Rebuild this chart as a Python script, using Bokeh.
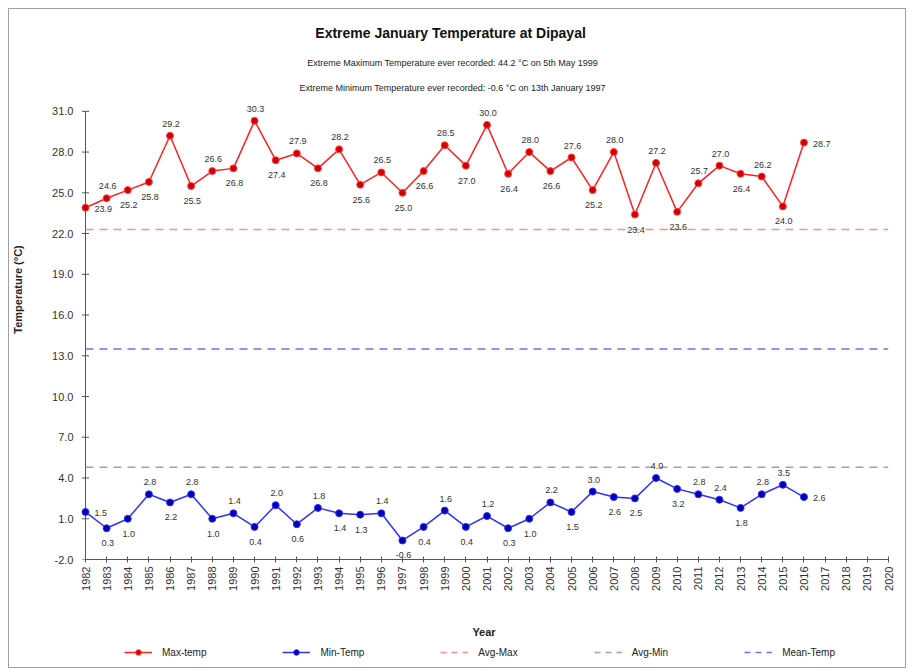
import math
from bokeh.plotting import figure
from bokeh.layouts import column
from bokeh.models import (ColumnDataSource, FixedTicker, Legend, LegendItem, Label,
                          Range1d, NumeralTickFormatter)
from bokeh.core.properties import value
from bokeh.embed import file_html
from bokeh.resources import INLINE

# ---------------- data ----------------
years = list(range(1982, 2017))
max_temp = [23.9, 24.6, 25.2, 25.8, 29.2, 25.5, 26.6, 26.8, 30.3, 27.4,
            27.9, 26.8, 28.2, 25.6, 26.5, 25.0, 26.6, 28.5, 27.0, 30.0,
            26.4, 28.0, 26.6, 27.6, 25.2, 28.0, 23.4, 27.2, 23.6, 25.7,
            27.0, 26.4, 26.2, 24.0, 28.7]
min_temp = [1.5, 0.3, 1.0, 2.8, 2.2, 2.8, 1.0, 1.4, 0.4, 2.0,
            0.6, 1.8, 1.4, 1.3, 1.4, -0.6, 0.4, 1.6, 0.4, 1.2,
            0.3, 1.0, 2.2, 1.5, 3.0, 2.6, 2.5, 4.0, 3.2, 2.8,
            2.4, 1.8, 2.8, 3.5, 2.6]
avg_max = 22.3
avg_min = 4.8
mean_temp = 13.5
axis_years = list(range(1982, 2021))
y_ticks = [-2.0, 1.0, 4.0, 7.0, 10.0, 13.0, 16.0, 19.0, 22.0, 25.0, 28.0, 31.0]

title_text = "Extreme January  Temperature at Dipayal"
sub1_text = "Extreme Maximum Temperature ever recorded: 44.2 \u00b0C on 5th May 1999"
sub2_text = "Extreme Minimum Temperature ever recorded: -0.6 \u00b0C on 13th January 1997"

FONT = "Liberation Sans"

# ---------------- layout geometry (pixels inside the main figure) ----------------
FIG_W, FIG_H = 896, 631
LEG_H = 27
F_LEFT, F_RIGHT = 70, 879          # frame edges
F_TOP, F_BOTTOM = 10, 551          # frame edges
AX_X = 76                          # where the y axis (first year) sits
AX_TOP = 102                       # where the top tick sits

y0, y1 = y_ticks[0], y_ticks[-1]
ppu_y = (F_BOTTOM - AX_TOP) / (y1 - y0)
y_end = y1 + (AX_TOP - F_TOP) / ppu_y
xa, xb = axis_years[0], axis_years[-1]
d = (AX_X - F_LEFT) / (F_RIGHT - AX_X) * (xb - xa)
x_start = xa - d


def px_to_x(px):
    return x_start + (px - F_LEFT) / (F_RIGHT - F_LEFT) * (xb - x_start)


def py_to_y(py):
    return y1 + (AX_TOP - py) / ppu_y


p = figure(width=FIG_W, height=FIG_H, output_backend="svg", toolbar_location=None,
           x_range=Range1d(x_start, xb), y_range=Range1d(y0, y_end),
           min_border_left=F_LEFT, min_border_right=FIG_W - F_RIGHT, min_border_top=F_TOP,
           min_border_bottom=FIG_H - F_BOTTOM)
p.outline_line_color = None
p.xgrid.grid_line_color = None
p.ygrid.grid_line_color = None

AXIS_COLOR = "#555555"
# axes
p.yaxis.ticker = FixedTicker(ticks=y_ticks)
p.yaxis.formatter = NumeralTickFormatter(format="0.0")
p.yaxis.bounds = (y0, y1)
p.xaxis.ticker = FixedTicker(ticks=axis_years)
p.xaxis.bounds = (xa, xb)
p.xaxis.major_label_orientation = math.pi / 2
for ax in (p.xaxis[0], p.yaxis[0]):
    ax.axis_line_color = AXIS_COLOR
    ax.major_tick_line_color = AXIS_COLOR
    ax.major_tick_in = 3
    ax.major_tick_out = 3
    ax.minor_tick_line_color = None
    ax.major_label_text_font = FONT
    ax.major_label_text_font_size = "11px"
    ax.major_label_text_color = "#333333"
    ax.axis_label_text_font = FONT
    ax.axis_label_text_font_style = "bold"
    ax.axis_label_text_font_size = "11px"
    ax.axis_label_text_color = "#222222"
p.xaxis.axis_label = "Year"
p.yaxis.axis_label = "Temperature (\u00b0C)"
p.xaxis.major_label_standoff = 4
p.xaxis.axis_label_standoff = 32
# the visible y-axis line and ticks sit on the first year; labels stay in the side panel
p.yaxis.axis_line_color = None
p.yaxis.major_tick_line_color = None
p.yaxis.major_tick_in = 0
p.yaxis.major_tick_out = 0
p.yaxis.major_label_standoff = 6
p.yaxis.axis_label_standoff = 25
p.segment(x0=[xa], y0=[y0], x1=[xa], y1=[y1], line_color=AXIS_COLOR, line_width=1)
p.scatter(x=[xa] * len(y_ticks), y=y_ticks, marker="dash", size=7, line_color=AXIS_COLOR, line_width=1)

# reference lines
x_span = [xa, xb]
AVGMAX_C, AVGMIN_C, MEAN_C = "#ff8c8c", "#a0a0b8", "#7070e0"
line_styles = dict(line_width=1.5, line_dash="8 6")
p.line(x_span, [avg_max, avg_max], line_color=AVGMAX_C, **line_styles)
p.line(x_span, [avg_min, avg_min], line_color=AVGMIN_C, **line_styles)
p.line(x_span, [mean_temp, mean_temp], line_color=MEAN_C, **line_styles)

# series
MAX_LINE, MAX_FILL, MAX_EDGE = "#ff2020", "#d00000", "#ff4040"
MIN_LINE, MIN_FILL, MIN_EDGE = "#3030ff", "#0000b0", "#3030ff"
src_max = ColumnDataSource(dict(x=years, y=max_temp))
src_min = ColumnDataSource(dict(x=years, y=min_temp))
p.line("x", "y", source=src_max, line_color=MAX_LINE, line_width=1.5)
p.scatter("x", "y", source=src_max, size=7, fill_color=MAX_FILL, line_color=MAX_EDGE)
p.line("x", "y", source=src_min, line_color=MIN_LINE, line_width=1.5)
p.scatter("x", "y", source=src_min, size=7, fill_color=MIN_FILL, line_color=MIN_EDGE)


def add_labels(xs, vals):
    above = dict(x=[], y=[], t=[])
    below = dict(x=[], y=[], t=[])
    right = dict(x=[], y=[], t=[])
    n = len(vals)
    for i, (xv, v) in enumerate(zip(xs, vals)):
        if i == 0 or i == n - 1:
            dd = right
        else:
            nb = [vals[i - 1], vals[i + 1]]
            dd = above if v >= sum(nb) / len(nb) else below
        dd["x"].append(xv)
        dd["y"].append(v)
        dd["t"].append(f"{v:.1f}")
    common = dict(text_font=value(FONT), text_font_size="9px", text_color="#333333")
    p.text("x", "y", text="t", source=ColumnDataSource(above), text_align="center",
           text_baseline="bottom", y_offset=-9, x_offset=1, **common)
    p.text("x", "y", text="t", source=ColumnDataSource(below), text_align="center",
           text_baseline="top", y_offset=12, x_offset=1, **common)
    p.text("x", "y", text="t", source=ColumnDataSource(right), text_align="left",
           text_baseline="middle", x_offset=9, y_offset=1, **common)


add_labels(years, max_temp)
add_labels(years, min_temp)

# titles (inside the frame's empty top band)
tx = px_to_x(443)
p.add_layout(Label(x=tx, y=py_to_y(24), text=title_text, text_align="center", text_baseline="middle",
                   text_font=FONT, text_font_style="bold", text_font_size="14px", text_color="#111111"))
p.add_layout(Label(x=tx, y=py_to_y(54), text=sub1_text, text_align="center", text_baseline="middle",
                   text_font=FONT, text_font_size="9px", text_color="#222222"))
p.add_layout(Label(x=tx, y=py_to_y(79), text=sub2_text, text_align="center", text_baseline="middle",
                   text_font=FONT, text_font_size="9px", text_color="#222222"))

# ---------------- legend strip ----------------
# the legend renderers reuse the real data, which lies outside this strip's view
lg = figure(width=FIG_W, height=LEG_H, output_backend="svg", toolbar_location=None,
            x_range=Range1d(0, 1), y_range=Range1d(0, 1),
            x_axis_location=None, y_axis_location=None,
            min_border_left=0, min_border_right=0, min_border_top=0, min_border_bottom=0)
lg.xgrid.grid_line_color = None
lg.ygrid.grid_line_color = None
lg.outline_line_color = None
l1 = lg.line("x", "y", source=src_max, line_color=MAX_LINE, line_width=1.5)
m1 = lg.scatter("x", "y", source=src_max, size=7, fill_color=MAX_FILL, line_color=MAX_EDGE)
l2 = lg.line("x", "y", source=src_min, line_color=MIN_LINE, line_width=1.5)
m2 = lg.scatter("x", "y", source=src_min, size=7, fill_color=MIN_FILL, line_color=MIN_EDGE)
leg_dash = dict(line_width=1.5, line_dash="6 5")
l3 = lg.line(x_span, [avg_max, avg_max], line_color=AVGMAX_C, **leg_dash)
l4 = lg.line(x_span, [avg_min, avg_min], line_color=AVGMIN_C, **leg_dash)
l5 = lg.line(x_span, [mean_temp, mean_temp], line_color=MEAN_C, **leg_dash)

legend = Legend(items=[
    LegendItem(label="Max-temp", renderers=[l1, m1]),
    LegendItem(label="Min-Temp", renderers=[l2, m2]),
    LegendItem(label="Avg-Max", renderers=[l3]),
    LegendItem(label="Avg-Min", renderers=[l4]),
    LegendItem(label="Mean-Temp", renderers=[l5]),
], orientation="horizontal", location=(45, 8), spacing=76, label_standoff=10,
    label_text_font=FONT, label_text_font_size="10px", label_text_color="#222222",
    border_line_color=None, background_fill_alpha=0, glyph_width=28, glyph_height=14,
    label_height=14, padding=2, margin=0)
lg.add_layout(legend)

layout = column(p, lg, spacing=0)
layout.styles = {"border": "1px solid #a0a0a0", "margin-left": "8px", "margin-top": "8px"}

open("out.html", "w").write(file_html(layout, INLINE))
